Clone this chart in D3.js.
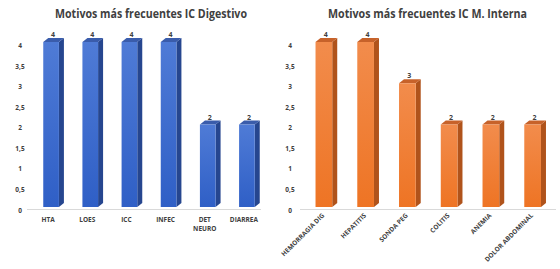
<!DOCTYPE html>
<html><head><meta charset="utf-8">
<script src="https://cdn.jsdelivr.net/npm/d3@7"></script>
<style>body{margin:0;background:#fff}svg{display:block}</style>
</head><body>
<svg id="c" width="560" height="269"></svg>
<script>
const titleLeft = "Motivos más frecuentes IC Digestivo";
const catsLeft = ["HTA","LOES","ICC","INFEC","DET NEURO","DIARREA"];
const valsLeft = [4,4,4,4,2,2];
const titleRight = "Motivos más frecuentes IC M. Interna";
const catsRight = ["HEMORRAGIA DIG","HEPATITIS","SONDA PEG","COLITIS","ANEMIA","DOLOR ABDOMINAL"];
const valsRight = [4,4,3,2,2,2];
const yTicks = [0,0.5,1,1.5,2,2.5,3,3.5,4];

const svg = d3.select("#c");
const defs = svg.append("defs");
function grad(id, c1, c2){
  const g = defs.append("linearGradient").attr("id",id).attr("x1",0).attr("y1",0).attr("x2",0).attr("y2",1);
  g.append("stop").attr("offset","0%").attr("stop-color",c1);
  g.append("stop").attr("offset","100%").attr("stop-color",c2);
}
grad("gBlue","#4f7bd6","#2f5fc6");
grad("gOrange","#f28c4c","#ee7424");

const font = "'Open Sans', 'Liberation Sans', Arial, sans-serif";
const depthX = 5, depthY = 4;

function drawChart(opt){
  const g = svg.append("g");
  g.append("text").attr("x",opt.titleX).attr("y",18).attr("text-anchor","middle")
    .attr("font-family",font).attr("font-weight","bold").attr("font-size",12)
    .attr("textLength",opt.titleW).attr("lengthAdjust","spacingAndGlyphs")
    .attr("fill","#404040").text(opt.title);

  const x = d3.scaleBand().domain(opt.cats).range([opt.x0,opt.x1]).paddingInner(0.6).paddingOuter(0.3);
  const yBar = d3.scaleLinear().domain([0,4]).range([207,42]);
  const yAx = d3.scaleLinear().domain([0,4]).range([210,45.5]);

  const ax = d3.axisLeft(yAx).tickValues(yTicks).tickSize(0).tickPadding(0)
    .tickFormat(d => String(d).replace(".",","));
  const axg = g.append("g").attr("transform",`translate(${opt.axisX},0)`).call(ax);
  axg.select(".domain").remove();
  axg.selectAll("text").attr("font-family",font).attr("font-size",6.5).attr("font-weight","bold")
    .attr("fill","#404040").attr("text-anchor","middle");

  g.append("line").attr("x1",opt.lineX0).attr("x2",opt.lineX1).attr("y1",209.5).attr("y2",209.5)
    .attr("stroke","#d9d9d9").attr("stroke-width",1);

  const bw = x.bandwidth();
  const bars = g.selectAll(".bar").data(opt.cats.map((c,i)=>({c, v:opt.vals[i]}))).enter().append("g");
  bars.append("path").attr("d", d => {
    const xr = x(d.c)+bw, yt = yBar(d.v), yb = yBar(0);
    return `M${xr},${yt}L${xr+depthX},${yt-depthY}L${xr+depthX},${yb-depthY}L${xr},${yb}Z`;
  }).attr("fill", opt.side);
  bars.append("path").attr("d", d => {
    const xl = x(d.c), xr = xl+bw, yt = yBar(d.v);
    return `M${xl},${yt}L${xl+depthX},${yt-depthY}L${xr+depthX},${yt-depthY}L${xr},${yt}Z`;
  }).attr("fill", opt.top);
  bars.append("rect").attr("x", d=>x(d.c)).attr("y", d=>yBar(d.v)).attr("width", bw)
    .attr("height", d=>yBar(0)-yBar(d.v)).attr("fill", `url(#${opt.grad})`);
  bars.append("text").attr("x", d=>x(d.c)+bw/2+2).attr("y", d=>yBar(d.v)-5)
    .attr("text-anchor","middle").attr("font-family",font).attr("font-size",7)
    .attr("font-weight","bold").attr("fill","#404040").text(d=>d.v);

  if(opt.rotate){
    g.selectAll(".cl").data(opt.cats).enter().append("text")
      .attr("transform", d=>`translate(${x(d)+bw/2+1},${216}) rotate(-45)`)
      .attr("text-anchor","end").attr("font-family",font).attr("font-size",6.5).attr("font-weight","bold")
      .attr("fill","#404040").text(d=>d);
  } else {
    g.selectAll(".cl").data(opt.cats).enter().append("text")
      .attr("x", d=>x(d)+bw/2-3).attr("y",222).attr("text-anchor","middle")
      .attr("font-family",font).attr("font-size",6.5).attr("font-weight","bold").attr("fill","#404040")
      .each(function(d){
        const parts = d.split(" ");
        const t = d3.select(this);
        if(parts.length>1){
          parts.forEach((p,i)=>t.append("tspan").attr("x", x(d)+bw/2-3).attr("dy", i? 9:0).text(p));
        } else t.text(d);
      });
  }
}

drawChart({title:titleLeft, titleX:151, titleW:192, cats:catsLeft, vals:valsLeft, x0:31.5, x1:266.5, axisX:20,
  lineX0:27, lineX1:261, grad:"gBlue", side:"#26468f", top:"#3a5cab", rotate:false});
drawChart({title:titleRight, titleX:427.5, titleW:199, cats:catsRight, vals:valsRight, x0:303, x1:553.5, axisX:290,
  lineX0:300, lineX1:556, grad:"gOrange", side:"#b0531b", top:"#c7622a", rotate:true});
</script>
</body></html>
